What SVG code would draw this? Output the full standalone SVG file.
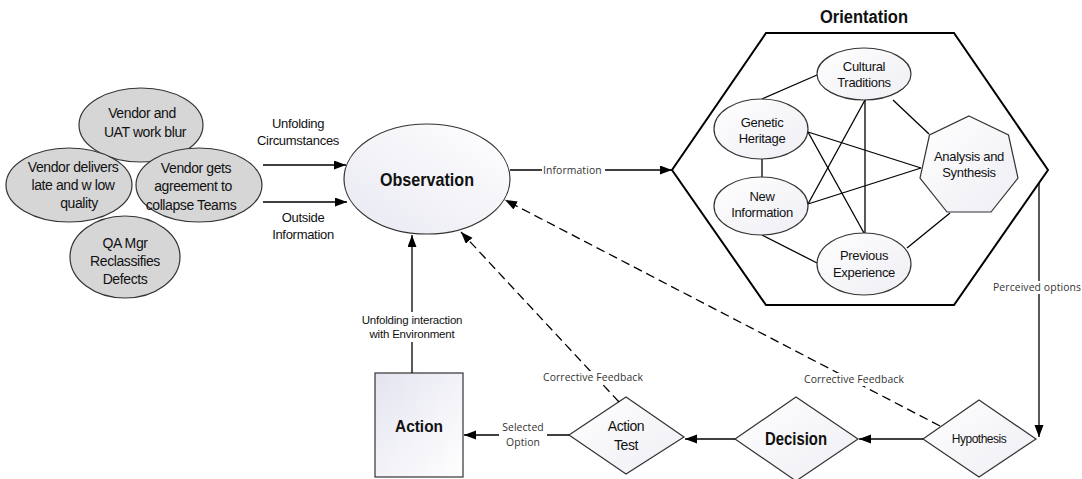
<svg xmlns="http://www.w3.org/2000/svg" width="1082" height="479" viewBox="0 0 1082 479">
<defs>
<linearGradient id="gObs" x1="1" y1="0" x2="0" y2="1">
<stop offset="0" stop-color="#ffffff"/><stop offset="1" stop-color="#e8e8f2"/>
</linearGradient>
<linearGradient id="gAct" x1="0" y1="0" x2="1" y2="1">
<stop offset="0" stop-color="#e4e4f0"/><stop offset="1" stop-color="#ffffff"/>
</linearGradient>
<linearGradient id="gIn" x1="0" y1="0" x2="1" y2="1">
<stop offset="0" stop-color="#ffffff"/><stop offset="1" stop-color="#eeeef4"/>
</linearGradient>
<marker id="ah" markerUnits="userSpaceOnUse" markerWidth="13" markerHeight="10" refX="12" refY="4.5" orient="auto">
<path d="M0,0 L12,4.5 L0,9 Z" fill="#000"/>
</marker>
<style>
.gray{fill:#d6d6d6;stroke:#333;stroke-width:1.2}
.node{stroke:#333;stroke-width:1.2}
.t{font-family:"Liberation Sans",Arial,sans-serif;fill:#111;text-anchor:middle}
.c14{font-size:14px;letter-spacing:-0.4px}
.c13{font-size:13px;letter-spacing:-0.3px}
.c11{font-size:11.5px;letter-spacing:-0.2px}
.b{font-weight:bold}
.s{font-family:"Open Sans","Noto Sans",sans-serif;font-size:10.4px;fill:#333;letter-spacing:0.1px}
.ln{stroke:#000;stroke-width:1.3;fill:none}
.dash{stroke:#000;stroke-width:1.3;fill:none;stroke-dasharray:9,5}
.bg{fill:#fff}
</style>
</defs>
<rect width="1082" height="479" fill="#fff"/>

<g id="cluster">
<g id="n-vendor-uat">
<ellipse class="gray" cx="141" cy="125" rx="62" ry="37"/>
<text class="t c14" x="142" y="118">Vendor and</text>
<text class="t c14" x="145" y="137">UAT work blur</text>
</g>
<g id="n-vendor-late">
<ellipse class="gray" cx="69" cy="185" rx="63" ry="37"/>
<text class="t c14" x="73" y="172">Vendor delivers</text>
<text class="t c14" x="73" y="190">late and w low</text>
<text class="t c14" x="79" y="208">quality</text>
</g>
<g id="n-vendor-agree">
<ellipse class="gray" cx="199" cy="185" rx="63" ry="37"/>
<text class="t c14" x="196" y="173">Vendor gets</text>
<text class="t c14" x="193" y="191">agreement to</text>
<text class="t c14" x="191" y="210">collapse Teams</text>
</g>
<g id="n-qa">
<ellipse class="gray" cx="125" cy="257" rx="55" ry="41"/>
<text class="t c14" x="125" y="248">QA Mgr</text>
<text class="t c14" x="125" y="266">Reclassifies</text>
<text class="t c14" x="125" y="284">Defects</text>
</g>
</g>

<g id="n-observation">
<ellipse class="node" cx="427" cy="179" rx="83" ry="55" fill="url(#gObs)"/>
<text class="t b" x="427" y="186" font-size="19" textLength="94" lengthAdjust="spacingAndGlyphs">Observation</text>
</g>

<g id="n-orientation">
<text class="t b" x="864" y="23" font-size="18" textLength="88" lengthAdjust="spacingAndGlyphs">Orientation</text>
<path d="M766,33 L954,33 L1048,170 L954,305 L766,305 L672,170 Z" fill="#fff" stroke="#000" stroke-width="2"/>
<g id="orientation-links" class="ln">
<line x1="817" y1="75" x2="762" y2="99"/>
<line x1="762" y1="159" x2="762" y2="177"/>
<line x1="762" y1="235" x2="817" y2="263"/>
<line x1="865" y1="100" x2="865" y2="233"/>
<line x1="893" y1="100" x2="929" y2="134"/>
<line x1="907" y1="248" x2="950" y2="213"/>
<line x1="808" y1="132" x2="864" y2="233"/>
<line x1="808" y1="132" x2="921" y2="168"/>
<line x1="808" y1="204" x2="865" y2="100"/>
<line x1="808" y1="204" x2="921" y2="168"/>
</g>
<g id="n-cultural">
<ellipse class="node" cx="864" cy="74" rx="47" ry="26" fill="url(#gIn)"/>
<text class="t c13" x="864" y="71">Cultural</text>
<text class="t c13" x="864" y="87">Traditions</text>
</g>
<g id="n-genetic">
<ellipse class="node" cx="761" cy="129" rx="47" ry="30" fill="url(#gIn)"/>
<text class="t c13" x="762" y="127">Genetic</text>
<text class="t c13" x="762" y="143">Heritage</text>
</g>
<g id="n-newinfo">
<ellipse class="node" cx="761" cy="206" rx="47" ry="29" fill="url(#gIn)"/>
<text class="t c13" x="762" y="201">New</text>
<text class="t c13" x="762" y="217">Information</text>
</g>
<g id="n-previous">
<ellipse class="node" cx="864" cy="264" rx="47" ry="31" fill="url(#gIn)"/>
<text class="t c13" x="864" y="260">Previous</text>
<text class="t c13" x="864" y="277">Experience</text>
</g>
<g id="n-analysis">
<path class="node" d="M969,116 L1008.5,135 L1018,178 L991,212 L947,212 L920,178 L929.5,135 Z" fill="url(#gIn)"/>
<text class="t c13" x="969" y="161">Analysis and</text>
<text class="t c13" x="969" y="177">Synthesis</text>
</g>
</g>

<g id="n-hypothesis">
<path class="node" d="M923,439 L979,400 L1036,439 L979,477 Z" fill="url(#gIn)"/>
<text class="t" x="979" y="443" font-size="12" letter-spacing="-0.5">Hypothesis</text>
</g>
<g id="n-decision">
<path class="node" d="M735,439 L796,397 L858,439 L796,481 Z" fill="url(#gIn)"/>
<text class="t b" x="796" y="445" font-size="18" textLength="62" lengthAdjust="spacingAndGlyphs">Decision</text>
</g>
<g id="n-actiontest">
<path class="node" d="M569,435 L626,397 L684,437 L626,474 Z" fill="url(#gIn)"/>
<text class="t c14" x="626" y="431">Action</text>
<text class="t c14" x="626" y="450">Test</text>
</g>
<g id="n-action">
<rect class="node" x="375" y="373" width="88" height="104" fill="url(#gAct)"/>
<text class="t b" x="419" y="432" font-size="17" textLength="48" lengthAdjust="spacingAndGlyphs">Action</text>
</g>

<g id="connectors">
<line class="ln" x1="263" y1="165" x2="346" y2="165" marker-end="url(#ah)"/>
<text class="t c13" x="298" y="128">Unfolding</text>
<text class="t c13" x="298" y="145">Circumstances</text>
<line class="ln" x1="263" y1="202" x2="347" y2="202" marker-end="url(#ah)"/>
<text class="t c13" x="303" y="222">Outside</text>
<text class="t c13" x="303" y="239">Information</text>

<line class="ln" x1="510" y1="170" x2="672" y2="170" marker-end="url(#ah)"/>
<rect class="bg" x="542" y="163" width="63" height="13"/>
<text class="s" x="543" y="173.5">Information</text>

<line class="ln" x1="1039" y1="183" x2="1039" y2="437" marker-end="url(#ah)"/>
<rect class="bg" x="992" y="281" width="90" height="13"/>
<text class="s" x="993" y="291">Perceived options</text>

<line class="ln" x1="923" y1="439" x2="859" y2="439" marker-end="url(#ah)"/>
<line class="ln" x1="735" y1="439" x2="685" y2="439" marker-end="url(#ah)"/>

<line class="ln" x1="569" y1="435" x2="464" y2="435" marker-end="url(#ah)"/>
<rect class="bg" x="499" y="420" width="48" height="30"/>
<text class="s" x="523" y="431" text-anchor="middle">Selected</text>
<text class="s" x="523" y="446" text-anchor="middle">Option</text>

<line class="ln" x1="412" y1="373" x2="412" y2="235" marker-end="url(#ah)"/>
<rect class="bg" x="356" y="312" width="112" height="30"/>
<text class="t c11" x="412" y="324">Unfolding interaction</text>
<text class="t c11" x="412" y="338">with Environment</text>

<line class="dash" x1="619" y1="402" x2="461" y2="232" marker-end="url(#ah)"/>
<rect class="bg" x="541" y="371" width="105" height="13"/>
<text class="s" x="593" y="381" text-anchor="middle">Corrective Feedback</text>

<line class="dash" x1="940" y1="426" x2="505" y2="200" marker-end="url(#ah)"/>
<rect class="bg" x="801" y="373" width="106" height="13"/>
<text class="s" x="854" y="383" text-anchor="middle">Corrective Feedback</text>
</g>
</svg>
